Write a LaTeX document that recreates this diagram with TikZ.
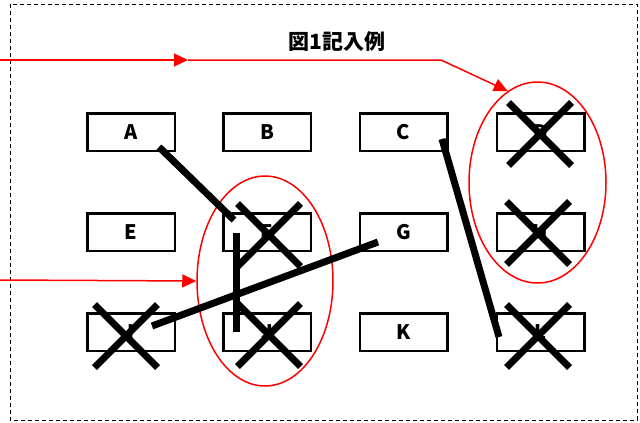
\documentclass[tikz,border=0pt]{standalone}
\usepackage{fontspec}
\setmainfont{Noto Sans CJK JP}
\usetikzlibrary{arrows.meta,shapes.geometric,shapes.misc}

\begin{document}
\begin{tikzpicture}[x=1pt,y=-1pt,
    box/.style={shape=rectangle,draw=black,line width=2.5pt,minimum width=87.5pt,minimum height=37.5pt,inner sep=0pt,font=\bfseries\fontsize{20}{20}\selectfont},
    xmark/.style={shape=cross out,draw=black,line width=7pt,minimum width=56pt,minimum height=56pt,inner sep=0pt},
    group/.style={shape=ellipse,draw=red,line width=1.5pt,inner sep=0pt},
    redarrow/.style={draw=red,line width=1.5pt,-{Triangle[length=14pt,width=13pt]}},
    thickline/.style={draw=black,line width=7pt}]
        \useasboundingbox (0,0) rectangle (640,423);
        \draw[dash pattern=on 4pt off 3pt,line width=1pt] (10,4) rectangle (637,420);

        \node[font=\bfseries\fontsize{21}{21}\selectfont] (title) at (337,42) {図1記入例};

        \node[box] (A) at (131, 132)   {A};
        \node[box] (B) at (267, 132)   {B};
        \node[box] (C) at (403.5, 132) {C};
        \node[box] (D) at (540.5, 132) {D};
        \node[box] (E) at (131, 232)   {E};
        \node[box] (F) at (267, 232)   {F};
        \node[box] (G) at (403.5, 232) {G};
        \node[box] (H) at (540.5, 232) {H};
        \node[box] (I) at (131, 332)   {I};
        \node[box] (J) at (267, 332)   {J};
        \node[box] (K) at (403.5, 332) {K};
        \node[box] (L) at (540.5, 332) {L};

        \node[group,minimum width=136pt,minimum height=210pt] (left) at (265, 281) {};
        \node[group,minimum width=137pt,minimum height=201pt] (right) at (537.5, 182.5) {};

        % red arrows
        \coordinate (in1) at (0, 60);
        \coordinate (mid1) at (188, 60);
        \coordinate (bend) at (441, 60);
        \coordinate (in2) at (0, 280);
	\path[redarrow] (in1) -- (mid1);
	\path[redarrow] (mid1) -- (bend) -- (right.108);
	\path[redarrow] (in2) -- (left.west);

        % black lines
        \coordinate (a1) at (159, 147);
        \coordinate (f1) at (234, 220);
        \coordinate (f2) at (236, 233);
        \coordinate (j2) at (236, 332);
        \coordinate (i1) at (152, 326);
        \coordinate (g1) at (378, 242);
        \coordinate (c1) at (442, 139);
        \coordinate (l1) at (499, 337);
	\path[thickline] (a1) -- (f1);
	\path[thickline] (f2) -- (j2);
	\path[thickline] (i1) -- (g1);
	\path[thickline] (c1) -- (l1);

        % crosses
        \node[xmark] (xD) at (540, 134) {};
        \node[xmark] (xH) at (538, 233) {};
        \node[xmark] (xL) at (538, 336) {};
        \node[xmark] (xF) at (269, 235) {};
        \node[xmark] (xJ) at (269, 335) {};
        \node[xmark] (xI) at (126, 336) {};
	\end{tikzpicture}
\end{document}
